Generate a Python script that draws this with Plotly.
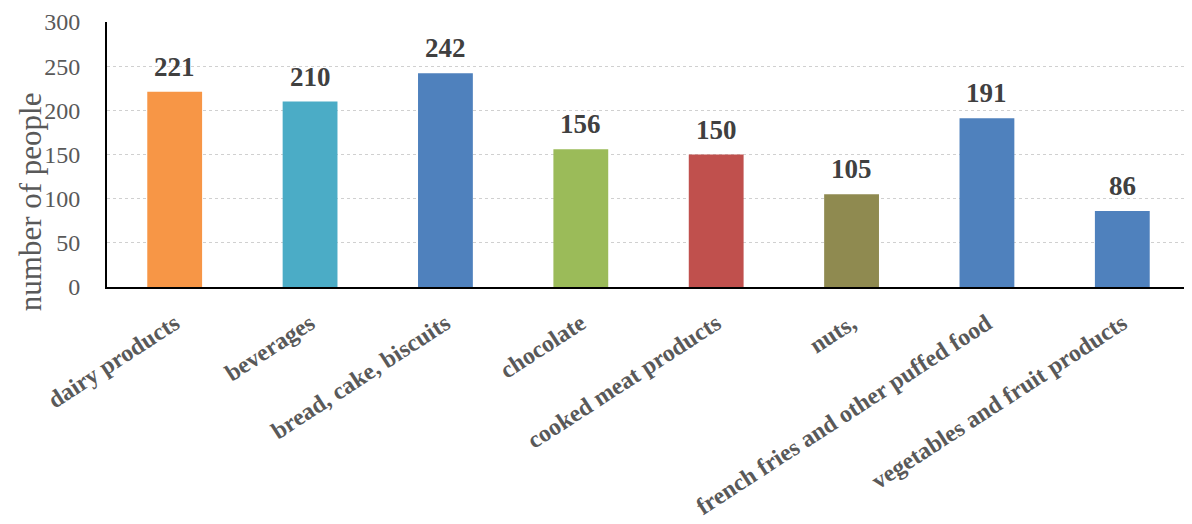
import plotly.graph_objects as go

categories = ["dairy products", "beverages", "bread, cake, biscuits", "chocolate",
              "cooked meat products", "nuts,", "french fries and other puffed food",
              "vegetables and fruit products"]
values = [221, 210, 242, 156, 150, 105, 191, 86]
colors = ["#F79646", "#4BACC6", "#4F81BD", "#9BBB59", "#C0504D", "#8F8A50", "#4F81BD", "#4F81BD"]
y_ticks = [0, 50, 100, 150, 200, 250, 300]

fig = go.Figure(go.Bar(
    x=categories, y=values, marker=dict(color=colors, line=dict(width=0)),
))

for c, v in zip(categories, values):
    fig.add_annotation(x=c, y=v, text="<b>%d</b>" % v, showarrow=False,
                       yanchor="bottom", yshift=8,
                       font=dict(family="Liberation Serif", size=27, color="#404040"))

fig.add_annotation(text="number of people", xref="paper", yref="paper",
                   x=0, y=0.32, xshift=-77, xanchor="center", yanchor="middle",
                   textangle=-90, showarrow=False,
                   font=dict(family="Liberation Serif", size=31, color="#595959"))

fig.update_layout(
    width=1184, height=516,
    margin=dict(l=99, r=2, t=14, b=237),
    paper_bgcolor="white", plot_bgcolor="white",
    bargap=0.595, showlegend=False,
    font=dict(family="Liberation Serif", color="#595959"),
)
fig.update_xaxes(
    tickangle=-33, showline=True, linecolor="black", linewidth=2,
    tickfont=dict(family="Liberation Serif", size=24, color="#595959"),
    tickvals=categories, ticktext=["<b>%s</b>" % c for c in categories],
    ticks="outside", ticklen=11, tickcolor="rgba(0,0,0,0)", automargin=False,
)
fig.update_yaxes(
    range=[0, 300], tickvals=y_ticks, showline=True, linecolor="black", linewidth=2,
    showgrid=True, gridcolor="#D0D0D0", griddash="dot", gridwidth=1,
    tickfont=dict(family="Liberation Serif", size=24, color="#595959"),
    zeroline=False, ticks="outside", ticklen=20, tickcolor="rgba(0,0,0,0)", automargin=False,
)
fig.write_html("out.html")
